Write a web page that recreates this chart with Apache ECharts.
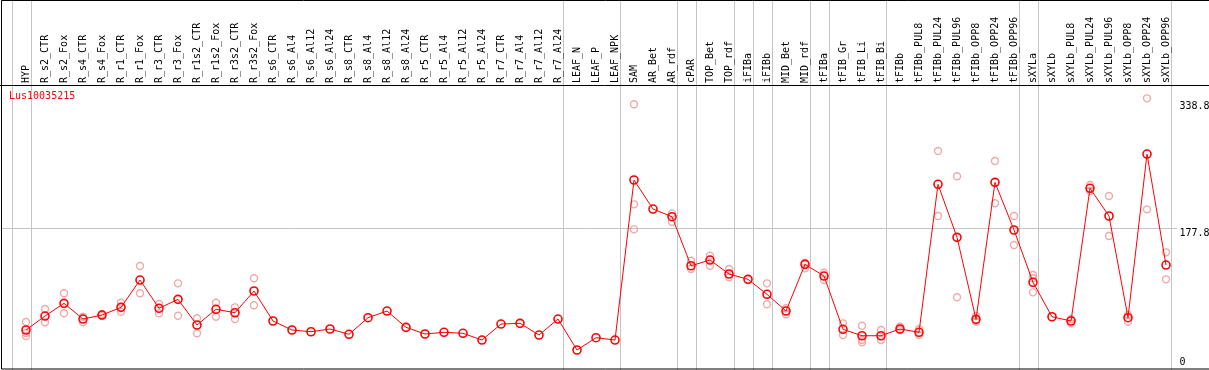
<!DOCTYPE html>
<html><head><meta charset="utf-8">
<script src="https://cdn.jsdelivr.net/npm/echarts@6/dist/echarts.min.js"></script>
<style>html,body{margin:0;padding:0;background:#fff}#c{width:1209px;height:370px}</style>
</head><body><div id="c"></div>
<script>
const geneName = 'Lus10035215';
const categories = ['HYP','R_s2_CTR','R_s2_Fox','R_s4_CTR','R_s4_Fox','R_r1_CTR','R_r1_Fox','R_r3_CTR','R_r3_Fox',
  'R_r1s2_CTR','R_r1s2_Fox','R_r3s2_CTR','R_r3s2_Fox','R_s6_CTR','R_s6_Al4','R_s6_Al12','R_s6_Al24',
  'R_s8_CTR','R_s8_Al4','R_s8_Al12','R_s8_Al24','R_r5_CTR','R_r5_Al4','R_r5_Al12','R_r5_Al24',
  'R_r7_CTR','R_r7_Al4','R_r7_Al12','R_r7_Al24','LEAF_N','LEAF_P','LEAF_NPK','SAM','AR_Bet','AR_rdf',
  'cPAR','TOP_Bet','TOP_rdf','iFIBa','iFIBb','MID_Bet','MID_rdf','tFIBa','tFIB_Gr','tFIB_Li','tFIB_Bi',
  'tFIBb','tFIBb_PUL8','tFIBb_PUL24','tFIBb_PUL96','tFIBb_OPP8','tFIBb_OPP24','tFIBb_OPP96',
  'sXYLa','sXYLb','sXYLb_PUL8','sXYLb_PUL24','sXYLb_PUL96','sXYLb_OPP8','sXYLb_OPP24','sXYLb_OPP96'];
const means = [47.8,65.6,81.8,61.8,66.9,76.7,111.5,75.5,86.9,54.2,74.2,69.8,97.5,59.3,47.8,45.6,49.1,
  42.3,63.5,72.0,51.2,42.7,44.9,43.6,35.0,55.4,56.3,41.4,61.8,22.3,38.0,35.0,239.0,202.0,192.2,
  129.7,137.0,119.2,112.4,93.3,72.0,131.5,116.6,48.7,40.5,40.5,49.1,44.9,233.5,165.9,61.4,236.0,175.3,
  108.6,64.7,59.3,228.4,193.1,63.5,272.1,130.6];
const replicates = [[58.0,44.0,40.1],[74.6,57.6],[94.6,69.1],[64.7,57.6],[68.2,66.0],[82.6,71.1],[129.4,94.6],
  [80.9,69.1],[107.3,66.0],[62.7,43.6],[82.6,64.7],[76.7,61.8],[113.7,79.3],
  [],[],[],[],[],[],[],[],[],[],[],[],[],[],[],[],[],[],[],
  [335.5,208.0,176.1],[],[196.5,185.8],[136.1,125.5],[142.5,129.7],[125.5,115.0],[],[107.3,80.6],
  [75.5,67.8],[133.6,126.4],[120.8,111.5],[56.3,41.4],[53.3,35.0,32.1],[47.8,35.0],[52.0,47.8],[48.7,41.4],
  [275.9,193.1],[243.7,89.5],[65.6,58.4],[263.2,209.3],[193.1,156.1],[117.9,113.7,95.8],[],[61.8,56.3],
  [232.6,225.0],[218.6,167.6],[66.9,58.4],[343.1,201.6],[146.8,112.4]];
const groupSizes = [1,28,3,3,1,2,1,1,2,1,3,7,1,7];
const yTickValues = [0, 177.8, 338.8];
const gridLineValue = 177.8;

const FONT = 'DejaVu Sans Mono';
const repData = [];
replicates.forEach((arr, i) => arr.forEach(v => repData.push([i, v])));

const chart = echarts.init(document.getElementById('c'), null, {renderer: 'canvas'});
const lblBase = {fontSize: 10, fontFamily: FONT, color: '#000', align: 'left', margin: 4,
  formatter: v => String(v)};
chart.setOption({
  animation: false,
  backgroundColor: '#fff',
  title: {text: geneName, left: 9, top: 91, padding: 0,
    textStyle: {fontSize: 10, fontWeight: 'normal', color: '#ff0000', fontFamily: FONT}},
  grid: {left: 16.5, right: 33.5, top: 85, bottom: 1, containLabel: false, outerBoundsMode: 'none'},
  xAxis: {type: 'category', data: categories, position: 'top', boundaryGap: true,
    axisLine: {show: false}, axisTick: {show: false}, splitLine: {show: false},
    axisLabel: {interval: 0, rotate: 90, margin: 2, fontSize: 10, fontFamily: FONT, color: '#000'}},
  yAxis: [
    {type: 'value', position: 'right', min: -1.9, max: 360.1,
      axisLine: {show: false}, axisTick: {show: false}, splitLine: {show: false},
      axisLabel: Object.assign({}, lblBase, {customValues: yTickValues.filter(v => v !== 0), verticalAlign: 'top'})},
    {type: 'value', position: 'right', min: -1.9, max: 360.1,
      axisLine: {show: false}, axisTick: {show: false}, splitLine: {show: false},
      axisLabel: Object.assign({}, lblBase, {customValues: yTickValues.filter(v => v === 0), verticalAlign: 'bottom'})}
  ],
  series: [
    {type: 'scatter', data: repData, symbol: 'circle', symbolSize: 7, z: 3,
      itemStyle: {color: 'rgba(0,0,0,0)', borderColor: '#ec9494', borderWidth: 1.4}},
    {type: 'line', data: means, symbol: 'circle', symbolSize: 8, z: 5,
      lineStyle: {color: '#ff0000', width: 1},
      itemStyle: {color: 'rgba(0,0,0,0)', borderColor: '#ff0000', borderWidth: 1.6}}
  ]
});

const c0 = chart.convertToPixel({xAxisIndex: 0}, 0);
const step = chart.convertToPixel({xAxisIndex: 0}, 1) - c0;
const gfx = [];
let idx = -1;
const boundaries = [-1];
groupSizes.forEach(s => { idx += s; boundaries.push(idx); });
boundaries.forEach(k => {
  const x = Math.round(c0 + step * k + 4.7) + 0.5;
  gfx.push({type: 'line', z: 0, shape: {x1: x, y1: 0, x2: x, y2: 370}, style: {stroke: '#c4c4c4', lineWidth: 1}});
});
const gy = Math.round(chart.convertToPixel({yAxisIndex: 0}, gridLineValue)) + 0.5;
gfx.push({type: 'line', z: 0, shape: {x1: 2, y1: gy, x2: 1177, y2: gy}, style: {stroke: '#c4c4c4', lineWidth: 1}});
gfx.push({type: 'line', z: 1, shape: {x1: 0, y1: 85.5, x2: 1209, y2: 85.5}, style: {stroke: '#000', lineWidth: 1}});
gfx.push({type: 'rect', z: 1, shape: {x: 1.5, y: 0.5, width: 1220, height: 368.5}, style: {stroke: '#000', fill: null, lineWidth: 1}});
chart.setOption({graphic: gfx});
</script>
</body></html>
